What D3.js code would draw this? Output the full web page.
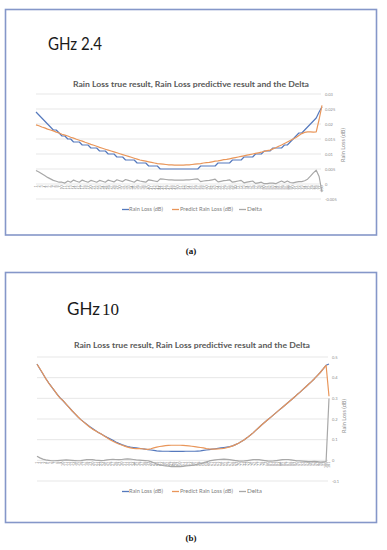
<!DOCTYPE html>
<html><head><meta charset="utf-8">
<script src="https://cdn.jsdelivr.net/npm/d3@7"></script>
<style>body{margin:0;background:#fff}svg{display:block}</style>
</head><body>
<svg id="c" width="387" height="550"></svg>
<script>
// ---------- DATA ----------
const seriesNames = ["Rain Loss (dB)", "Predict Rain Loss (dB)", "Delta"];

// Panel (a) GHz 2.4
const categoriesA = d3.range(1, 101).map(String);
const rainLossA = [.024,.023,.022,.021,.020,.019,.018,.018,.017,.016,
 .016,.015,.015,.014,.014,.014,.013,.013,.013,.012,
 .012,.012,.011,.011,.011,.010,.010,.010,.009,.009,
 .009,.008,.008,.008,.008,.007,.007,.007,.007,.006,
 .006,.006,.006,.005,.005,.005,.005,.005,.005,.005,
 .005,.005,.005,.005,.005,.005,.005,.006,.006,.006,
 .006,.006,.006,.007,.007,.007,.007,.007,.008,.008,
 .008,.008,.009,.009,.009,.009,.010,.010,.010,.011,
 .011,.011,.012,.012,.012,.012,.013,.013,.014,.015,
 .016,.017,.017,.018,.019,.020,.021,.022,.024,.0257];
const predictA = [.0197,.0194,.0190,.0187,.0183,.0180,.0177,.0173,.0170,.0166,
 .0163,.0160,.0156,.0153,.0149,.0146,.0143,.0139,.0136,.0132,
 .0129,.0126,.0122,.0119,.0116,.0113,.0110,.0107,.0104,.0101,
 .0098,.0095,.0092,.0089,.0086,.0083,.0080,.0078,.0076,.0074,
 .0072,.0070,.0068,.0067,.0066,.0065,.0064,.0064,.0063,.0063,
 .0063,.0063,.0064,.0064,.0065,.0066,.0067,.0068,.0070,.0071,
 .0072,.0074,.0076,.0077,.0079,.0081,.0082,.0084,.0086,.0088,
 .0090,.0092,.0094,.0096,.0098,.0100,.0102,.0104,.0106,.0109,
 .0111,.0113,.0117,.0121,.0126,.0130,.0135,.0140,.0145,.0150,
 .0155,.0162,.0168,.0172,.0174,.0174,.0173,.0174,.0215,.0262];
const deltaA = [.0045,.0040,.0034,.0028,.0022,.0017,.0012,.0009,.0006,.0006,
 .0003,.0010,.0006,.0013,.0009,.0006,.0013,.0009,.0006,.0012,
 .0009,.0006,.0012,.0009,.0006,.0013,.0010,.0007,.0014,.0011,
 .0008,.0015,.0012,.0009,.0006,.0013,.0010,.0008,.0006,.0014,
 .0012,.0010,.0008,.0017,.0016,.0015,.0014,.0014,.0013,.0013,
 .0013,.0013,.0014,.0014,.0015,.0016,.0017,.0008,.0010,.0011,
 .0012,.0014,.0016,.0007,.0009,.0011,.0012,.0014,.0006,.0008,
 .0010,.0012,.0004,.0006,.0008,.0010,.0002,.0004,.0006,.0001,
 .0001,.0003,.0003,.0001,.0006,.0010,.0005,.0010,.0005,.0004,
 .0006,.0008,.0008,.0011,.0016,.0026,.0037,.0046,.0025,-.0027];
const yTicksA = [-0.005, 0, 0.005, 0.01, 0.015, 0.02, 0.025, 0.03];

// Panel (b) GHz 10
const categoriesB = d3.range(1, 102).map(String);
const rainLossB = [.466,.442,.419,.396,.375,.355,.336,.318,.301,.287,
 .271,.256,.240,.225,.210,.197,.186,.175,.164,.154,
 .144,.135,.127,.119,.111,.104,.097,.089,.082,.076,
 .071,.067,.064,.062,.060,.058,.056,.054,.052,.050,
 .048,.046,.045,.044,.044,.044,.043,.043,.043,.043,
 .043,.044,.044,.044,.044,.045,.046,.048,.050,.052,
 .054,.056,.058,.060,.062,.064,.066,.070,.076,.083,
 .091,.100,.110,.121,.133,.146,.159,.172,.184,.196,
 .208,.220,.232,.244,.256,.268,.280,.292,.304,.317,
 .329,.342,.355,.368,.381,.395,.410,.425,.442,.460,.466];
const predictB = [.465,.443,.420,.395,.374,.356,.337,.317,.300,.288,
 .272,.255,.240,.226,.211,.197,.185,.173,.161,.151,
 .143,.135,.127,.118,.109,.100,.092,.085,.079,.074,
 .069,.064,.060,.058,.057,.057,.056,.054,.053,.056,
 .060,.064,.067,.069,.071,.072,.073,.073,.073,.073,
 .072,.071,.070,.068,.066,.064,.062,.060,.057,.055,
 .054,.054,.055,.056,.058,.061,.065,.070,.076,.083,
 .091,.100,.110,.121,.133,.146,.159,.172,.184,.196,
 .208,.220,.232,.244,.256,.268,.280,.292,.304,.317,
 .329,.342,.355,.368,.381,.395,.410,.425,.442,.460,.310];
const deltaB = [.020,.012,.006,.002,.000,-.002,-.002,-.001,.000,.001,
 .002,.001,.000,-.001,-.002,-.001,.001,.003,.004,.003,
 .001,.000,-.001,.000,.002,.004,.005,.004,.003,.004,
 .006,.007,.006,.004,.002,.001,.000,-.001,-.002,-.006,
 -.012,-.018,-.022,-.025,-.027,-.028,-.030,-.030,-.030,-.030,
 -.029,-.027,-.026,-.024,-.022,-.019,-.016,-.012,-.007,-.003,
 .000,.002,.004,.005,.006,.005,.003,.001,-.001,-.003,
 -.004,-.003,-.001,.001,.003,.004,.003,.001,-.001,-.003,
 -.004,-.003,-.001,.001,.003,.004,.004,.002,.000,-.002,
 -.003,-.004,-.005,-.006,-.006,-.005,-.006,-.008,-.007,-.006,.300];
const yTicksB = [-0.1, 0, 0.1, 0.2, 0.3, 0.4, 0.5];

// ---------- DRAW ----------
const svg = d3.select('#c');
svg.append('rect').attr('width', 387).attr('height', 550).attr('fill', '#fff');
const COLORS = ['#5579bd', '#e9965a', '#a8a8a8'];
const SANS = 'Lato, "Open Sans", sans-serif';

function panel(o) {
  const g = svg.append('g');
  g.append('rect').attr('x', o.frame[0]).attr('y', o.frame[1])
    .attr('width', o.frame[2]).attr('height', o.frame[3])
    .attr('fill', 'none').attr('stroke', '#8597c9').attr('stroke-width', 1.6);

  o.header(g);

  g.append('text').attr('x', o.x0 + 37).attr('y', o.titleY)
    .attr('font-family', SANS).attr('font-weight', 'bold').attr('font-size', 7.6)
    .attr('fill', '#595959').attr('textLength', 236).attr('lengthAdjust', 'spacingAndGlyphs')
    .text('Rain Loss true result, Rain Loss predictive result and the Delta');

  const x = d3.scalePoint().domain(o.cats).range([o.x0, o.x1]);
  const y = d3.scaleLinear().domain([o.yticks[0], o.yticks[o.yticks.length - 1]]).range([o.yb, o.yt]);

  g.append('g').selectAll('line').data(o.yticks).join('line')
    .attr('x1', o.x0).attr('x2', o.gx1)
    .attr('y1', d => y(d)).attr('y2', d => y(d))
    .attr('stroke', '#dcdcdc').attr('stroke-width', 0.7);

  const ax = g.append('g').attr('transform', `translate(${o.axX},0)`)
    .call(d3.axisRight(y).tickValues(o.yticks).tickSize(0).tickPadding(0).tickFormat(o.fmt));
  ax.select('.domain').remove();
  ax.selectAll('text').attr('font-size', 4).attr('fill', '#8c8c8c').attr('font-family', SANS);

  g.append('text')
    .attr('transform', `translate(${o.axTitleX},${o.axTitleY}) rotate(-90)`)
    .attr('text-anchor', 'middle').attr('font-family', SANS).attr('font-size', 5.6)
    .attr('fill', '#8c8c8c').text('Rain Loss (dB)');

  g.append('g').selectAll('text').data(o.cats).join('text')
    .attr('transform', d => `translate(${x(d) + 1.2},${y(0) + 1.4}) rotate(-90)`)
    .attr('text-anchor', 'end').attr('font-family', SANS).attr('font-size', 3.6)
    .attr('fill', '#7a7a7a').text(d => d);

  const series = [o.rain, o.pred, o.delta];
  series.forEach((vals, k) => {
    const line = d3.line().x((d, i) => x(o.cats[i])).y(d => y(d));
    g.append('path').attr('d', line(vals)).attr('fill', 'none')
      .attr('stroke', COLORS[k]).attr('stroke-width', 1.2).attr('stroke-linejoin', 'round');
  });

  // legend
  const lx = [[122, 129, 34], [172, 180, 53], [239, 247, 15]];
  seriesNames.forEach((nm, k) => {
    g.append('line').attr('x1', lx[k][0]).attr('x2', lx[k][0] + 7)
      .attr('y1', o.legY).attr('y2', o.legY).attr('stroke', COLORS[k]).attr('stroke-width', 1.3);
    g.append('text').attr('x', lx[k][1]).attr('y', o.legY + 1.9)
      .attr('font-family', SANS).attr('font-size', 5.4).attr('fill', '#7f7f7f')
      .attr('textLength', lx[k][2]).attr('lengthAdjust', 'spacingAndGlyphs').text(nm);
  });

  svg.append('text').attr('x', 191).attr('y', o.capY).attr('text-anchor', 'middle')
    .attr('font-family', '"Liberation Serif", serif').attr('font-weight', 'bold')
    .attr('font-size', 9).attr('fill', '#111').text(o.caption);
}

panel({
  frame: [5.5, 9.5, 371, 225.5],
  header: g => g.append('text').attr('x', 48).attr('y', 50).attr('font-family', SANS)
    .attr('font-size', 17).attr('fill', '#1a1a1a').attr('textLength', 54)
    .attr('lengthAdjust', 'spacingAndGlyphs').text('GHz 2.4'),
  titleY: 86.5,
  cats: categoriesA, rain: rainLossA, pred: predictA, delta: deltaA,
  yticks: yTicksA, fmt: d => String(+d.toFixed(3)),
  x0: 36, x1: 322, gx1: 321, yb: 199, yt: 94,
  axX: 325, axTitleX: 345, axTitleY: 145,
  legY: 209.5, capY: 254, caption: '(a)'
});

panel({
  frame: [5.5, 272.5, 371, 250],
  header: g => {
    const t = g.append('text').attr('y', 315).attr('font-size', 17).attr('fill', '#1a1a1a');
    t.append('tspan').attr('x', 67).attr('font-family', SANS).text('GHz');
    t.append('tspan').attr('x', 102).attr('font-family', '"Liberation Serif", serif').text('10');
  },
  titleY: 348,
  cats: categoriesB, rain: rainLossB, pred: predictB, delta: deltaB,
  yticks: yTicksB, fmt: d => String(+d.toFixed(1)),
  x0: 37, x1: 329, gx1: 328, yb: 481, yt: 357,
  axX: 332, axTitleX: 346, axTitleY: 416,
  legY: 491.5, capY: 541, caption: '(b)'
});
</script>
</body></html>
